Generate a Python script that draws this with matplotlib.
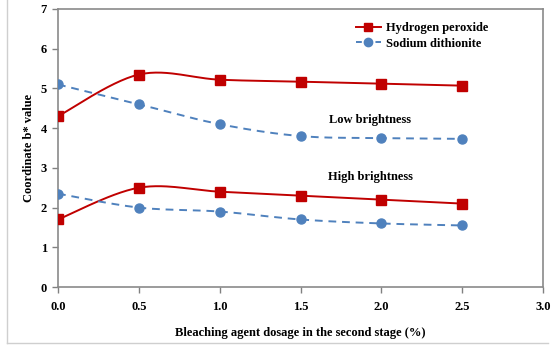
import numpy as np
import matplotlib
matplotlib.use("Agg")
import matplotlib.pyplot as plt
from matplotlib.lines import Line2D

plt.rcParams['font.family'] = ['Liberation Serif', 'DejaVu Serif']
plt.rcParams['font.weight'] = 'bold'

dosage = [0.0, 0.5, 1.0, 1.5, 2.0, 2.5]
h2o2_low = [4.3, 5.35, 5.22, 5.17, 5.12, 5.07]
dith_low = [5.1, 4.6, 4.1, 3.8, 3.75, 3.73]
h2o2_high = [1.7, 2.5, 2.4, 2.3, 2.2, 2.1]
dith_high = [2.35, 2.0, 1.9, 1.7, 1.6, 1.55]
x_ticks = [0.0, 0.5, 1.0, 1.5, 2.0, 2.5, 3.0]
y_ticks = [0, 1, 2, 3, 4, 5, 6, 7]

RED = '#C00000'
BLUE = '#4F81BD'


def smooth(xs, ys, n=30):
    """Piecewise cubic Bezier through the points (spreadsheet-style smoothing)."""
    p = np.column_stack([xs, ys]).astype(float)
    ext = np.vstack([p[0], p, p[-1]])
    out = []
    t = np.linspace(0, 1, n)[:, None]
    for i in range(len(p) - 1):
        p0, p3 = ext[i + 1], ext[i + 2]
        c1 = p0 + (ext[i + 2] - ext[i]) / 6.0
        c2 = p3 - (ext[i + 3] - ext[i + 1]) / 6.0
        seg = ((1 - t) ** 3) * p0 + 3 * ((1 - t) ** 2) * t * c1 + 3 * (1 - t) * t ** 2 * c2 + t ** 3 * p3
        out.append(seg if i == 0 else seg[1:])
    s = np.vstack(out)
    return s[:, 0], s[:, 1]


fig = plt.figure(figsize=(5.54, 3.46), dpi=100)
ax = fig.add_axes([0.1047, 0.1705, 0.8755, 0.8035])

for ys in (h2o2_low, h2o2_high):
    sx, sy = smooth(dosage, ys)
    ax.plot(sx, sy, color=RED, lw=1.4, zorder=3)
    ax.plot(dosage, ys, ls='none', marker='s', ms=6.5, color=RED, mec=RED, zorder=4)

for ys in (dith_low, dith_high):
    sx, sy = smooth(dosage, ys)
    ax.plot(sx, sy, color=BLUE, lw=1.4, ls=(0, (4, 3)), zorder=3)
    ax.plot(dosage, ys, ls='none', marker='o', ms=6.5, color=BLUE, mec=BLUE, zorder=4)

ax.set_xlim(0, 3.0)
ax.set_ylim(0, 7)
ax.set_xticks(x_ticks)
ax.set_xticklabels([f"{v:.1f}" for v in x_ticks], fontsize=9, fontweight='bold')
ax.set_yticks(y_ticks)
ax.set_yticklabels([str(v) for v in y_ticks], fontsize=9, fontweight='bold')
ax.tick_params(axis='both', direction='out', length=4, color='#808080', width=1)
ax.tick_params(axis='x', pad=6)
ax.tick_params(axis='y', pad=4)
for sp in ax.spines.values():
    sp.set_color('#8a8a8a')
    sp.set_linewidth(1.2)

ax.set_xlabel("Bleaching agent dosage in the second stage (%)", fontsize=9, fontweight='bold', labelpad=10)
ax.set_ylabel("Coordinate b* value", fontsize=9, fontweight='bold', labelpad=4)

ax.text(1.93, 4.2, "Low brightness", ha='center', va='center', fontsize=9, fontweight='bold')
ax.text(1.93, 2.77, "High brightness", ha='center', va='center', fontsize=9, fontweight='bold')

handles = [
    Line2D([], [], color=RED, lw=1.4, marker='s', ms=6, label='Hydrogen peroxide'),
    Line2D([], [], color=BLUE, lw=1.4, ls=(0, (3, 2)), marker='o', ms=6, label='Sodium dithionite'),
]
ax.legend(handles=handles, loc='upper right', bbox_to_anchor=(0.905, 0.985), frameon=False,
          prop={'weight': 'bold', 'size': 9}, handlelength=2.0, handletextpad=0.4,
          labelspacing=0.3, borderaxespad=0.3)

# light outer border on the left and bottom of the figure
fig.add_artist(Line2D([7 / 554, 7 / 554], [3 / 346, 1.0], transform=fig.transFigure,
                      color='#cfcfcf', lw=1.0))
fig.add_artist(Line2D([7 / 554, 548 / 554], [3 / 346, 3 / 346], transform=fig.transFigure,
                      color='#cfcfcf', lw=1.0))

fig.savefig("out.png", dpi=100)
